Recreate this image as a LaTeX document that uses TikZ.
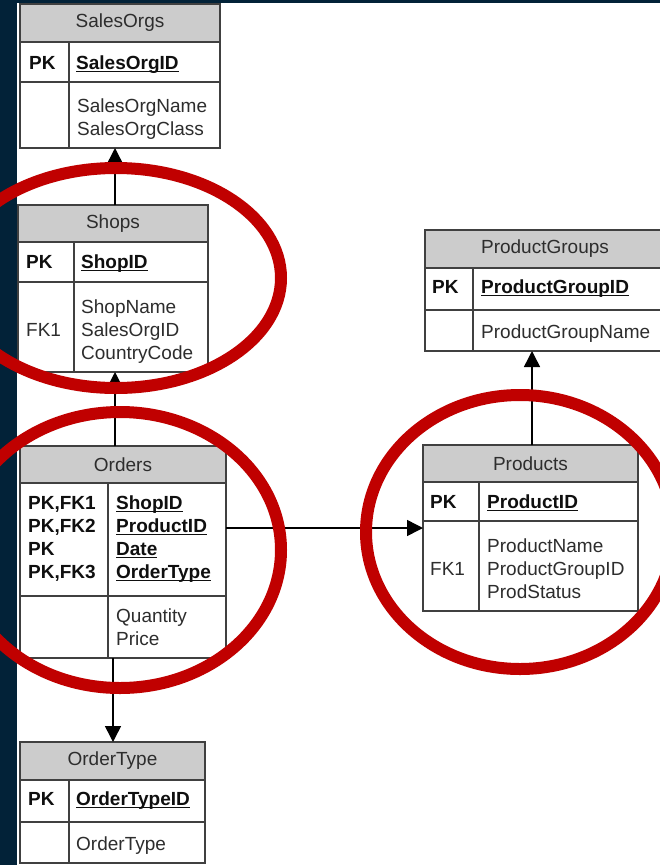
\documentclass[tikz,border=0pt]{standalone}
\usepackage{fontspec}
\setmainfont{Liberation Sans}
\usetikzlibrary{arrows.meta}

\definecolor{navy}{RGB}{2,34,56}
\definecolor{ringred}{RGB}{192,0,0}
\definecolor{hdrgray}{RGB}{204,204,204}
\definecolor{boxline}{RGB}{64,64,64}
\definecolor{txtgray}{RGB}{45,45,45}
\definecolor{keyblack}{RGB}{15,15,15}

% underlined key field name, rule just below the baseline
\newcommand\keyfield[1]{\setbox0\hbox{#1}\rlap{\rule[-3pt]{\wd0}{1.4pt}}\box0}

% entity box: name, x, y, width, header h, key h, attribute h, divider offset, title
\newcommand\ertable[9]{%
  \node[hdr, minimum width=#4, minimum height=#5] (#1-h) at (#2,#3) {#9};
  \node[box, minimum width=#4, minimum height=#6] (#1-k) at (#1-h.south west) {};
  \node[box, minimum width=#4, minimum height=#7] (#1-a) at (#1-k.south west) {};
  \draw[sep] ([xshift=#8]#1-k.north west) -- ([xshift=#8]#1-a.south west);
}

\tikzset{
  box/.style={draw=boxline, line width=1.5pt, rectangle, inner sep=0pt, outer sep=0pt, anchor=north west},
  hdr/.style={box, fill=hdrgray, font=\fontsize{19}{22.7}\selectfont, text=txtgray},
  sep/.style={draw=boxline, line width=1.5pt},
  txt/.style={font=\fontsize{19}{22.7}\selectfont, text=txtgray, inner sep=0pt, anchor=base west},
  key/.style={txt, font=\fontsize{19}{22.7}\selectfont\bfseries, text=keyblack},
  conn/.style={draw=black, line width=1.5pt, -{Triangle[width=16pt,length=16pt]}},
  ring/.style={draw=ringred, line width=12pt},
}

\begin{document}
\begin{tikzpicture}[x=1pt,y=-1pt]
\useasboundingbox (0,0) rectangle (660,865);
\clip (0,0) rectangle (660,865);
% slide background
\fill[navy] (0,0) rectangle (660,865);
\fill[white] (17,3) rectangle (660,865);

% entities
\ertable{so}{20}{4}{200pt}{38pt}{40pt}{66pt}{49pt}{SalesOrgs}
\ertable{shops}{18}{205}{190pt}{37pt}{40pt}{90pt}{56pt}{Shops}
\ertable{ord}{20}{446}{206pt}{37pt}{113pt}{62pt}{88pt}{Orders}
\ertable{pg}{425}{230}{240pt}{38pt}{42pt}{41pt}{48pt}{ProductGroups}
\ertable{prod}{423}{445}{215pt}{37pt}{39pt}{90pt}{56pt}{Products}
\ertable{ot}{20}{742}{185pt}{38pt}{42pt}{41pt}{49pt}{OrderType}

% SalesOrgs fields
\node[key] (so-pk) at (29,69) {PK};
\node[key] (so-id) at (76,69) {\keyfield{SalesOrgID}};
\node[txt] (so-f1) at (77,112) {SalesOrgName};
\node[txt] (so-f2) at (77,135) {SalesOrgClass};

% Shops fields
\node[key] (shops-pk) at (26,268) {PK};
\node[key] (shops-id) at (81,268) {\keyfield{ShopID}};
\node[txt] (shops-fk) at (26,336) {FK1};
\node[txt] (shops-f1) at (81,313) {ShopName};
\node[txt] (shops-f2) at (81,336) {SalesOrgID};
\node[txt] (shops-f3) at (81,359) {CountryCode};

% Orders fields
\node[key] (ord-k1) at (28,509) {PK,FK1};
\node[key] (ord-k2) at (28,532) {PK,FK2};
\node[key] (ord-k3) at (28,555) {PK};
\node[key] (ord-k4) at (28,578) {PK,FK3};
\node[key] (ord-i1) at (116,509) {\keyfield{ShopID}};
\node[key] (ord-i2) at (116,532) {\keyfield{ProductID}};
\node[key] (ord-i3) at (116,555) {\keyfield{Date}};
\node[key] (ord-i4) at (116,578) {\keyfield{OrderType}};
\node[txt] (ord-f1) at (116,622) {Quantity};
\node[txt] (ord-f2) at (116,645) {Price};

% ProductGroups fields
\node[key] (pg-pk) at (432,293) {PK};
\node[key] (pg-id) at (481,293) {\keyfield{ProductGroupID}};
\node[txt] (pg-f1) at (481,338) {ProductGroupName};

% Products fields
\node[key] (prod-pk) at (430,508) {PK};
\node[key] (prod-id) at (487,508) {\keyfield{ProductID}};
\node[txt] (prod-fk) at (430,575) {FK1};
\node[txt] (prod-f1) at (487,552) {ProductName};
\node[txt] (prod-f2) at (487,575) {ProductGroupID};
\node[txt] (prod-f3) at (487,598) {ProdStatus};

% OrderType fields
\node[key] (ot-pk) at (28,805) {PK};
\node[key] (ot-id) at (76,805) {\keyfield{OrderTypeID}};
\node[txt] (ot-f1) at (76,850) {OrderType};

% relationships
\coordinate (c1) at (115,0);
\coordinate (c2) at (113,0);
\coordinate (c3) at (0,528);
\coordinate (c4) at (532,0);
\draw[conn] (shops-h.north -| c1) -- (so-a.south -| c1);
\draw[conn] (ord-h.north -| c1) -- (shops-a.south -| c1);
\draw[conn] (ord-a.south -| c2) -- (ot-h.north -| c2);
\draw[conn] (ord-k.east |- c3) -- (prod-a.west |- c3);
\draw[conn] (prod-h.north -| c4) -- (pg-a.south -| c4);

% highlight rings
\draw[ring] (116,278) ellipse [x radius=165pt, y radius=110pt];
\draw[ring] (120,550) ellipse [x radius=161pt, y radius=138pt];
\draw[ring] (520,532) ellipse [x radius=154pt, y radius=137pt];
\end{tikzpicture}
\end{document}
